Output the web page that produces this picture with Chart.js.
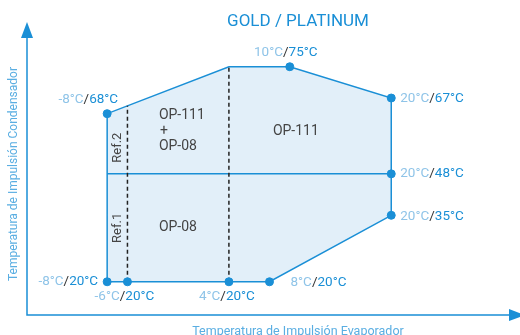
<!DOCTYPE html>
<html>
<head>
<meta charset="utf-8">
<script src="https://cdn.jsdelivr.net/npm/chart.js@4.4.0/dist/chart.umd.min.js"></script>
<style>
  html, body { margin: 0; padding: 0; background: #fff; }
  canvas { display: block; }
</style>
</head>
<body>
<canvas id="chart" width="520" height="335"></canvas>
<script>
// operating points (evaporator / condenser outlet temperature, °C)
const evapTemps = [-8, -6, 4, 8, 20, 20, 20, 10, -8];
const condTemps = [20, 20, 20, 20, 35, 48, 67, 75, 68];
// height at which each point is drawn in the (schematic) diagram
const condPlotY = [20, 20, 20, 20, 37, 47.6, 67, 75, 63];

// envelope outline
const envelopeX = [-8, -8, 4, 10, 20, 20, 8, -8];
const envelopeY = [20, 63, 75, 75, 67, 37, 20, 20];

// refrigerant split lines (dashed) and model split line
const refX = [-6, 4];
const refTopY = [65, 75];
const splitX = [-8, 20];
const splitY = 47.6;

const BLUE = "#1a8fd6";
const LIGHT = "#8fc4e8";
const DARK = "#333";
const FONT = "Roboto, 'Liberation Sans', sans-serif";

// label placement next to each point: [align, dx, dy]
const labelPlace = [
    ["right", -9, 0],
    ["center", -3, 15],
    ["center", -2, 15],
    ["left", 21, 1],
    ["left", 9, 1],
    ["left", 9, 0],
    ["left", 9, 1],
    ["center", -4, -14],
    ["right", 11, -14]
];

const pts = (xs, ys) => xs.map((x, i) => ({ x: x, y: ys[i] }));

const decor = {
    id: "decor",
    afterDatasetsDraw(chart) {
        const ctx = chart.ctx;
        const a = chart.chartArea;
        const xs = chart.scales.x, ys = chart.scales.y;
        ctx.save();

        // axes with arrows
        ctx.strokeStyle = BLUE;
        ctx.fillStyle = BLUE;
        ctx.lineWidth = 1.5;
        ctx.beginPath();
        ctx.moveTo(a.left, 37);
        ctx.lineTo(a.left, a.bottom);
        ctx.lineTo(a.right - 4, a.bottom);
        ctx.stroke();
        ctx.beginPath();
        ctx.moveTo(a.left, 22);
        ctx.lineTo(a.left - 6, 38);
        ctx.lineTo(a.left + 6, 38);
        ctx.closePath();
        ctx.fill();
        ctx.beginPath();
        ctx.moveTo(a.right + 12, a.bottom);
        ctx.lineTo(a.right - 4, a.bottom - 6);
        ctx.lineTo(a.right - 4, a.bottom + 6);
        ctx.closePath();
        ctx.fill();

        // title
        ctx.font = "17px " + FONT;
        ctx.textAlign = "center";
        ctx.textBaseline = "middle";
        ctx.fillText("GOLD / PLATINUM", 298, 22);

        // axis titles
        ctx.fillStyle = "#5aaee2";
        ctx.font = "12.5px " + FONT;
        ctx.fillText("Temperatura de Impulsión Evaporador", 298, 332);
        ctx.font = "12px " + FONT;
        ctx.save();
        ctx.translate(14, 174);
        ctx.rotate(-Math.PI / 2);
        ctx.fillText("Temperatura de Impulsión Condensador", 0, 0);
        ctx.restore();

        // point labels
        ctx.font = "13.5px " + FONT;
        ctx.textBaseline = "middle";
        ctx.textAlign = "left";
        evapTemps.forEach((e, i) => {
            const parts = [[e + "°C", LIGHT], ["/", DARK], [condTemps[i] + "°C", BLUE]];
            const w = parts.reduce((s, p) => s + ctx.measureText(p[0]).width, 0);
            const [align, dx, dy] = labelPlace[i];
            const px = xs.getPixelForValue(e) + dx;
            const py = ys.getPixelForValue(condPlotY[i]) + dy;
            let x = align === "left" ? px : align === "right" ? px - w : px - w / 2;
            parts.forEach(p => {
                ctx.fillStyle = p[1];
                ctx.fillText(p[0], x, py);
                x += ctx.measureText(p[0]).width;
            });
        });

        // zone texts
        ctx.fillStyle = "#444";
        ctx.font = "14px " + FONT;
        ctx.textAlign = "left";
        [["OP-111", -2.9, 62.5], ["+", -2.8, 58.4], ["OP-08", -2.9, 54.5], ["OP-08", -2.9, 34]].forEach(t => {
            ctx.fillText(t[0], xs.getPixelForValue(t[1]), ys.getPixelForValue(t[2]));
        });
        ctx.textAlign = "center";
        ctx.fillText("OP-111", xs.getPixelForValue(10.6), ys.getPixelForValue(58.4));
        ctx.font = "13px " + FONT;
        [["Ref.2", -7.0, 54.3], ["Ref.1", -7.0, 33.8]].forEach(t => {
            ctx.save();
            ctx.translate(xs.getPixelForValue(t[1]), ys.getPixelForValue(t[2]));
            ctx.rotate(-Math.PI / 2);
            ctx.fillText(t[0], 0, 0);
            ctx.restore();
        });
        ctx.restore();
    }
};

const datasets = [
    {
        data: pts(evapTemps, condPlotY),
        showLine: false,
        pointRadius: 4,
        pointBackgroundColor: BLUE,
        pointBorderColor: BLUE,
        order: 0
    },
    {
        data: pts(splitX, [splitY, splitY]),
        showLine: true,
        borderColor: BLUE,
        borderWidth: 1.5,
        pointRadius: 0,
        order: 2
    },
    {
        data: pts(envelopeX, envelopeY),
        showLine: true,
        borderColor: BLUE,
        borderWidth: 1.5,
        backgroundColor: "#e2eff9",
        fill: "shape",
        pointRadius: 0,
        tension: 0,
        order: 3
    }
];
refX.forEach((x, i) => {
    datasets.push({
        data: pts([x, x], [20, refTopY[i]]),
        showLine: true,
        borderColor: "#222",
        borderWidth: 1.5,
        borderDash: [4, 3],
        pointRadius: 0,
        order: 1
    });
});

new Chart(document.getElementById("chart"), {
    type: "scatter",
    data: { datasets: datasets },
    options: {
        responsive: false,
        animation: false,
        layout: { padding: { left: 27, right: 7, top: 30, bottom: 20 } },
        scales: {
            x: { type: "linear", min: -15.9, max: 32, display: false },
            y: { type: "linear", min: 11.5, max: 84.4, display: false }
        },
        plugins: {
            legend: { display: false },
            tooltip: { enabled: false }
        }
    },
    plugins: [decor]
});
</script>
</body>
</html>
